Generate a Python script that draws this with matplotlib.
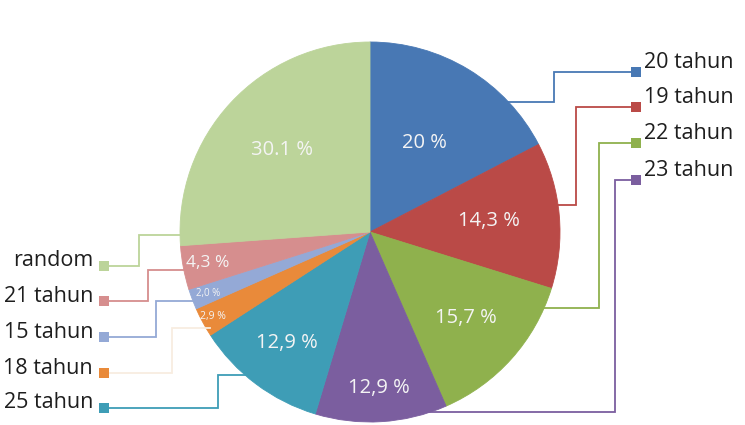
import numpy as np
import matplotlib
matplotlib.use("Agg")
import matplotlib.pyplot as plt

# data (slice order: clockwise from 12 o'clock)
categories = ["20 tahun", "19 tahun", "22 tahun", "23 tahun", "25 tahun",
              "18 tahun", "15 tahun", "21 tahun", "random"]
values = [20, 14.3, 15.7, 12.9, 12.9, 2.9, 2.0, 4.3, 30.1]
pct_labels = ["20 %", "14,3 %", "15,7 %", "12,9 %", "12,9 %",
              "2,9 %", "2,0 %", "4,3 %", "30.1 %"]
colors = ["#4878B4", "#BA4A47", "#8FB14D", "#7B5E9F", "#3E9DB6",
          "#E98A3A", "#94A9D6", "#D68E8E", "#BCD49A"]
line_colors = ["#4878B4", "#BA4A47", "#8FB14D", "#7B5E9F", "#3E9DB6",
               "#F8EDE0", "#94A9D6", "#D68E8E", "#BCD49A"]

# layout (image pixel coords, y from top)
W, H = 745, 425
cx, cy, R = 370, 232, 190
label_r = [0.55, 0.63, 0.68, 0.82, 0.73, 0.94, 0.91, 0.87, 0.63]
label_fs = [14.5, 14.5, 14.5, 14.5, 14.5, 7.5, 7, 12.5, 14.5]
# legend side: (side, square y, elbow x, anchor y on pie)
legend_pos = [("r", 72, 554, 102), ("r", 107, 576, 205), ("r", 143, 599, 308),
              ("r", 180, 615, 412), ("l", 408, 218, 375), ("l", 373, 172, 328),
              ("l", 337, 156, 301), ("l", 301, 148, 270), ("l", 266, 139, 235)]

plt.rcParams['font.family'] = ['Open Sans', 'DejaVu Sans']

fig = plt.figure(figsize=(W / 100, H / 100), dpi=100)
ax = fig.add_axes([0, 0, 1, 1])


def fy(y):
    return H - y


wedges, _ = ax.pie(values, colors=colors, startangle=90, counterclock=False,
                   center=(cx, fy(cy)), radius=R, frame=True,
                   wedgeprops=dict(linewidth=0.6, edgecolor='none'))
ax.set_xlim(0, W)
ax.set_ylim(0, H)
ax.set_aspect('equal')
ax.axis('off')

for w, txt, rf, fs in zip(wedges, pct_labels, label_r, label_fs):
    w.set_edgecolor(w.get_facecolor())
    mid = np.deg2rad((w.theta1 + w.theta2) / 2)
    ax.text(cx + rf * R * np.cos(mid), fy(cy) + rf * R * np.sin(mid), txt,
            ha='center', va='center', color='#F4F4F4', fontsize=fs)

for name, lc, (side, sy, ex, ay) in zip(categories, line_colors, legend_pos):
    dy = cy - ay
    dx = np.sqrt(max(R ** 2 - dy ** 2, 0))
    if side == "r":
        ax_x = cx + dx - 4
        sq_x = 636
        ax.plot([ax_x, ex, ex, sq_x], [fy(ay), fy(ay), fy(sy), fy(sy)],
                color=lc, lw=1.3, solid_joinstyle='miter')
        ax.text(644, fy(sy - 10), name, ha='left', va='center',
                fontsize=15.5, color='#1E1E1E')
    else:
        ax_x = cx - dx + 4
        sq_x = 104
        ax.plot([ax_x, ex, ex, sq_x], [fy(ay), fy(ay), fy(sy), fy(sy)],
                color=lc, lw=1.3, solid_joinstyle='miter')
        ax.text(93, fy(sy - 5), name, ha='right', va='center',
                fontsize=15.5, color='#1E1E1E')
    sq_col = wedges[categories.index(name)].get_facecolor()
    ax.plot(sq_x, fy(sy), marker='s', markersize=7, color=sq_col,
            markeredgewidth=0)

fig.savefig("out.png", dpi=100)
